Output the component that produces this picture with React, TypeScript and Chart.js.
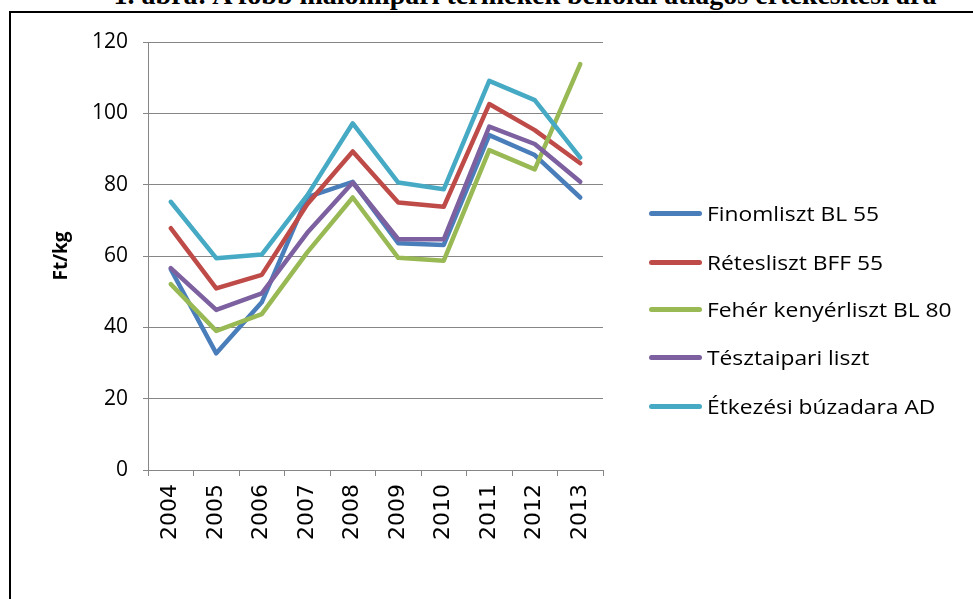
import React, { useEffect, useRef } from "react";
import { Chart, registerables } from "chart.js";

Chart.register(...registerables);

const years = ["2004", "2005", "2006", "2007", "2008", "2009", "2010", "2011", "2012", "2013"];
const finomliszt = [56.3, 32.7, 47.0, 76.5, 80.8, 63.6, 63.1, 93.9, 88.3, 76.4];
const retesliszt = [67.8, 50.9, 54.7, 74.5, 89.3, 75.0, 73.8, 102.6, 95.3, 86.0];
const feherKenyer = [52.1, 39.0, 43.7, 61.0, 76.4, 59.5, 58.7, 89.7, 84.3, 113.8];
const tesztaipari = [56.6, 44.9, 49.5, 66.5, 80.6, 64.7, 64.7, 96.3, 91.4, 80.8];
const etkezesi = [75.2, 59.4, 60.4, 77.0, 97.2, 80.6, 78.7, 109.1, 103.7, 87.6];

const seriesNames = [
  "Finomliszt BL 55",
  "Rétesliszt BFF 55",
  "Fehér kenyérliszt BL 80",
  "Tésztaipari liszt",
  "Étkezési búzadara AD",
];
const seriesColors = ["#4A7EBB", "#BE4B48", "#98B954", "#7D60A0", "#46AAC5"];
const seriesData = [finomliszt, retesliszt, feherKenyer, tesztaipari, etkezesi];
const yTitle = "Ft/kg";
const titleText = "1. ábra: A főbb malomipari termékek belföldi átlagos értékesítési ára";

const FONT = "'Open Sans', sans-serif";

export default function App() {
  const ref = useRef<HTMLCanvasElement | null>(null);

  useEffect(() => {
    if (!ref.current) return;
    const chart = new Chart(ref.current, {
      type: "line",
      data: {
        labels: years,
        datasets: seriesData.map((d, i) => ({
          label: seriesNames[i],
          data: d,
          borderColor: seriesColors[i],
          backgroundColor: seriesColors[i],
          borderWidth: 4.5,
          pointRadius: 0,
          tension: 0,
          borderCapStyle: "round" as const,
          borderJoinStyle: "round" as const,
          order: seriesData.length - i,
        })),
      },
      options: {
        responsive: false,
        animation: false,
        layout: { padding: { left: 0, top: 42, right: 370, bottom: 0 } },
        plugins: { legend: { display: false }, tooltip: { enabled: false }, title: { display: false } },
        scales: {
          x: {
            type: "category",
            offset: true,
            afterFit: (s: any) => {
              s.height = 129;
            },
            grid: {
              display: true,
              offset: true,
              drawOnChartArea: false,
              drawTicks: true,
              tickLength: 6,
              color: "#868686",
            },
            border: { display: true, color: "#868686", width: 1 },
            ticks: {
              autoSkip: false,
              minRotation: 90,
              maxRotation: 90,
              padding: 8,
              color: "#000",
              font: { family: "'DejaVu Sans', sans-serif", size: 22 },
            },
          },
          y: {
            min: 0,
            max: 120,
            afterFit: (s: any) => {
              s.width = 148;
            },
            grid: { color: "#868686", lineWidth: 1, drawTicks: true, tickLength: 5 },
            border: { display: true, color: "#868686", width: 1 },
            ticks: {
              stepSize: 20,
              padding: 15,
              color: "#000",
              font: { family: FONT, size: 21 },
            },
            title: {
              display: true,
              text: yTitle,
              color: "#000",
              padding: { top: 50, bottom: 0 },
              font: { family: FONT, size: 19, weight: "bold" },
            },
          },
        },
      },
    });
    return () => chart.destroy();
  }, []);

  return (
    <div style={{ position: "fixed", left: 0, top: 0, width: 973, height: 599, overflow: "hidden", background: "#fff" }}>
      <div
        style={{
          position: "absolute",
          left: 0,
          width: 1050,
          top: -20,
          textAlign: "center",
          fontFamily: "'Liberation Serif', serif",
          fontWeight: "bold",
          fontSize: 28,
          lineHeight: "30px",
          whiteSpace: "nowrap",
          color: "#000",
        }}
      >
        {titleText}
      </div>
      <div
        style={{
          position: "absolute",
          left: 9,
          top: 11,
          width: 1000,
          height: 700,
          border: "2px solid #000",
          boxSizing: "border-box",
          background: "transparent",
        }}
      />
      <canvas ref={ref} width={973} height={599} style={{ position: "absolute", left: 0, top: 0 }} />
      <div style={{ position: "absolute", left: 649, top: 0 }}>
        {seriesNames.map((n, i) => (
          <div
            key={n}
            style={{
              position: "absolute",
              left: 0,
              top: [213, 262, 309, 357, 406][i] - 14,
              height: 28,
              display: "flex",
              alignItems: "center",
              whiteSpace: "nowrap",
            }}
          >
            <span
              style={{
                display: "inline-block",
                width: 53,
                height: 5,
                borderRadius: 3,
                background: seriesColors[i],
                marginRight: 5,
              }}
            />
            <span
              style={{
                fontFamily: FONT,
                fontSize: 20,
                color: "#000",
                display: "inline-block",
                transform: "scaleX(1.14)",
                transformOrigin: "left center",
              }}
            >
              {n}
            </span>
          </div>
        ))}
      </div>
    </div>
  );
}
